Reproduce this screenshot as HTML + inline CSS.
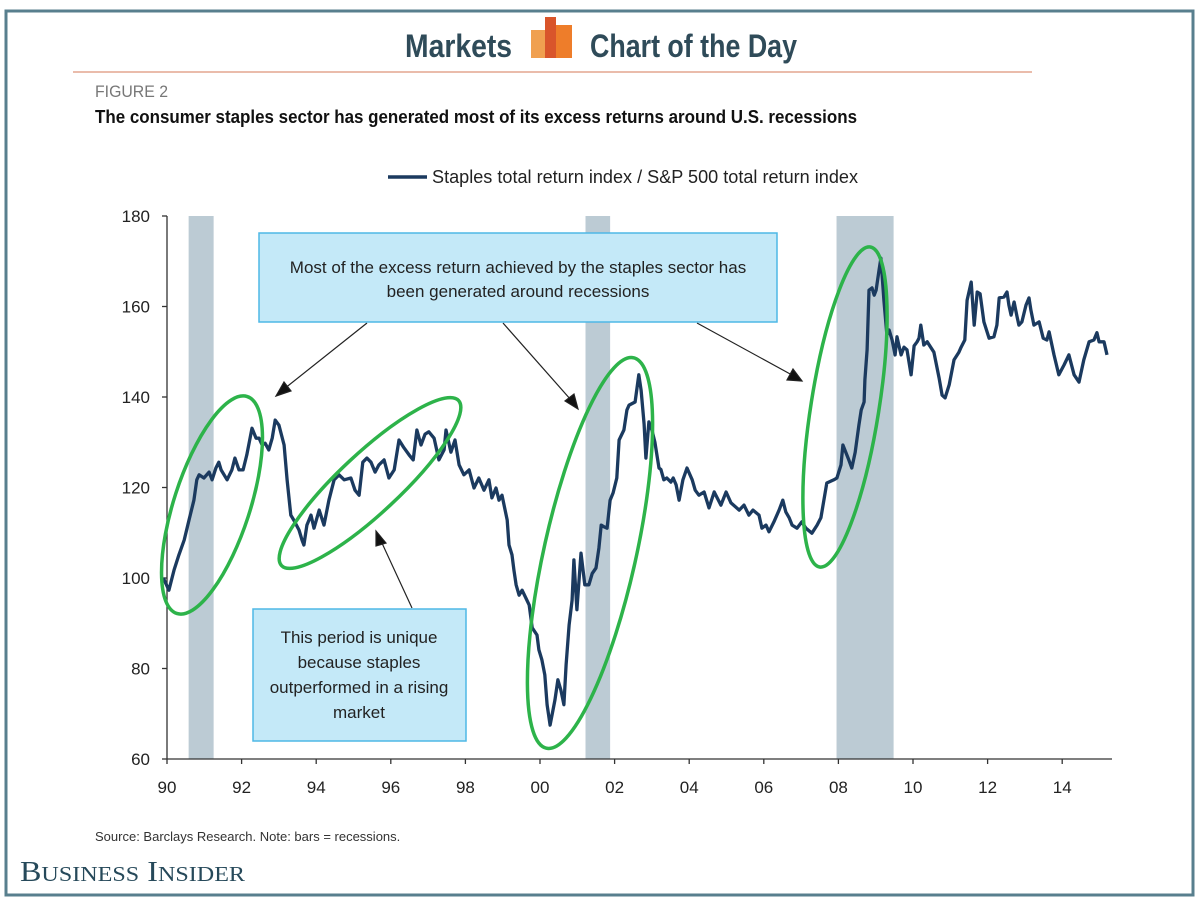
<!DOCTYPE html>
<html><head><meta charset="utf-8">
<style>
html,body{margin:0;padding:0;background:#fff;}
body{width:1200px;height:900px;position:relative;overflow:hidden;font-family:"Liberation Sans",sans-serif;}
</style></head>
<body>
<svg id="chart" width="1200" height="900" viewBox="0 0 1200 900" xmlns="http://www.w3.org/2000/svg" font-family="Liberation Sans, sans-serif">
  <rect x="6" y="11" width="1187" height="884" fill="#fff" stroke="#587f8e" stroke-width="3"/>
  <g>
    <text x="405" y="57" textLength="107" lengthAdjust="spacingAndGlyphs" font-weight="bold" font-size="32" fill="#2f4b59">Markets</text>
    <rect x="531" y="30" width="14" height="28" fill="#f0a050"/>
    <rect x="545" y="17" width="11" height="41" fill="#d9552b"/>
    <rect x="556" y="25" width="16" height="33" fill="#ee7d2a"/>
    <text x="590" y="57" textLength="207" lengthAdjust="spacingAndGlyphs" font-weight="bold" font-size="32" fill="#2f4b59">Chart of the Day</text>
    <line x1="73" y1="72" x2="1032" y2="72" stroke="#e4a58f" stroke-width="1.5"/>
  </g>
  <text x="95" y="97" textLength="73" lengthAdjust="spacingAndGlyphs" font-size="17" fill="#777">FIGURE 2</text>
  <text x="95" y="123" textLength="762" lengthAdjust="spacingAndGlyphs" font-size="18" font-weight="bold" fill="#111">The consumer staples sector has generated most of its excess returns around U.S. recessions</text>
  <g>
    <line x1="388" y1="177" x2="427" y2="177" stroke="#1b3a5f" stroke-width="3.5"/>
    <text x="432" y="183" textLength="426" lengthAdjust="spacingAndGlyphs" font-size="18" fill="#222">Staples total return index / S&amp;P 500 total return index</text>
  </g>
  <g id="bands"></g>
  <g id="axes"></g>
  <g id="series"></g>
  <g fill="none" stroke="#2db34a" stroke-width="3.5">
    <ellipse cx="212" cy="505" rx="38" ry="114" transform="rotate(18 212 505)"/>
    <ellipse cx="370" cy="483" rx="121" ry="30" transform="rotate(-43 370 483)"/>
    <ellipse cx="590" cy="553" rx="46" ry="200" transform="rotate(12.6 590 553)"/>
    <ellipse cx="845" cy="407" rx="34" ry="162" transform="rotate(9 845 407)"/>
  </g>
  <g stroke="#222" stroke-width="1.2" fill="#111">
    <line x1="367" y1="323" x2="284" y2="389"/><polygon points="276,396 284,382 291,391"/>
    <line x1="503" y1="323" x2="571" y2="400"/><polygon points="578,409 565,401 574,394"/>
    <line x1="697" y1="323" x2="792" y2="375"/><polygon points="802,381 787,380 793,369"/>
    <line x1="412" y1="608" x2="381" y2="541"/><polygon points="376,531 386,543 376,546"/>
  </g>
  <g>
    <rect x="259" y="233" width="518" height="89" fill="#c4e9f8" stroke="#4fb8e6" stroke-width="1.5"/>
    <text x="518" y="273" text-anchor="middle" font-size="17" fill="#222">Most of the excess return achieved by the staples sector has</text>
    <text x="518" y="297" text-anchor="middle" font-size="17" fill="#222">been generated around recessions</text>
  </g>
  <g>
    <rect x="253" y="609" width="213" height="132" fill="#c4e9f8" stroke="#4fb8e6" stroke-width="1.5"/>
    <text x="359" y="643" text-anchor="middle" font-size="17" fill="#222">This period is unique</text>
    <text x="359" y="668" text-anchor="middle" font-size="17" fill="#222">because staples</text>
    <text x="359" y="693" text-anchor="middle" font-size="17" fill="#222">outperformed in a rising</text>
    <text x="359" y="718" text-anchor="middle" font-size="17" fill="#222">market</text>
  </g>
  <text x="95" y="841" font-size="13" fill="#333">Source: Barclays Research. Note: bars = recessions.</text>
  <text x="20" y="881" textLength="225" lengthAdjust="spacingAndGlyphs" font-family="Liberation Serif, serif" font-size="28" fill="#26495a">B<tspan font-size="21">USINESS</tspan> I<tspan font-size="21">NSIDER</tspan></text>
</svg>
<script>
const years = [1989.9,1990.05,1990.19,1990.32,1990.46,1990.59,1990.72,1990.80,1990.86,1990.99,1991.13,1991.21,1991.31,1991.39,1991.45,1991.61,1991.74,1991.82,1991.93,1992.04,1992.14,1992.28,1992.39,1992.47,1992.55,1992.63,1992.73,1992.82,1992.90,1993.00,1993.14,1993.22,1993.32,1993.40,1993.54,1993.62,1993.67,1993.75,1993.86,1993.94,1994.08,1994.21,1994.34,1994.48,1994.61,1994.75,1994.93,1995.04,1995.15,1995.25,1995.36,1995.47,1995.58,1995.68,1995.82,1995.95,1996.09,1996.22,1996.35,1996.49,1996.60,1996.70,1996.81,1996.92,1997.02,1997.16,1997.29,1997.43,1997.48,1997.61,1997.72,1997.83,1997.96,1998.10,1998.23,1998.36,1998.50,1998.63,1998.71,1998.82,1998.90,1998.98,1999.12,1999.17,1999.25,1999.30,1999.36,1999.44,1999.52,1999.62,1999.71,1999.79,1999.92,1999.97,2000.05,2000.13,2000.19,2000.27,2000.40,2000.48,2000.56,2000.64,2000.70,2000.78,2000.86,2000.91,2000.99,2001.10,2001.20,2001.31,2001.40,2001.50,2001.58,2001.64,2001.72,2001.80,2001.88,2001.96,2002.06,2002.12,2002.25,2002.33,2002.39,2002.55,2002.65,2002.71,2002.79,2002.84,2002.92,2003.00,2003.08,2003.19,2003.24,2003.32,2003.40,2003.51,2003.57,2003.65,2003.73,2003.83,2003.94,2004.08,2004.16,2004.26,2004.40,2004.53,2004.67,2004.75,2004.85,2004.99,2005.12,2005.34,2005.47,2005.60,2005.71,2005.87,2005.95,2006.06,2006.14,2006.27,2006.41,2006.51,2006.59,2006.68,2006.76,2006.89,2007.02,2007.13,2007.29,2007.43,2007.53,2007.69,2007.88,2007.96,2008.07,2008.12,2008.28,2008.36,2008.45,2008.55,2008.61,2008.69,2008.71,2008.77,2008.82,2008.90,2008.96,2009.01,2009.09,2009.14,2009.22,2009.30,2009.36,2009.44,2009.52,2009.57,2009.62,2009.68,2009.76,2009.84,2009.95,2010.03,2010.11,2010.16,2010.21,2010.29,2010.38,2010.56,2010.70,2010.78,2010.86,2010.97,2011.10,2011.23,2011.29,2011.39,2011.45,2011.56,2011.64,2011.72,2011.80,2011.90,2012.04,2012.17,2012.25,2012.31,2012.44,2012.52,2012.57,2012.63,2012.71,2012.79,2012.84,2012.92,2013.03,2013.11,2013.16,2013.24,2013.38,2013.49,2013.59,2013.65,2013.78,2013.91,2014.05,2014.18,2014.32,2014.45,2014.58,2014.72,2014.85,2014.93,2014.99,2015.12,2015.20];
const ratio = [100.0,97.3,101.8,105.1,108.4,112.8,117.2,121.7,122.8,122.1,123.4,121.7,124.3,125.6,123.9,121.7,123.9,126.5,123.9,123.9,127.2,133.1,130.9,130.9,129.4,129.8,128.3,130.9,134.9,133.8,129.4,121.7,113.9,112.8,110.6,108.4,107.3,111.7,113.9,111.0,115.0,111.7,117.2,121.7,122.8,121.7,122.1,119.4,118.3,125.6,126.5,125.6,123.4,125.0,126.1,122.1,123.9,130.5,128.8,127.2,126.1,132.7,129.4,131.8,132.3,130.9,126.1,128.3,132.7,127.8,130.5,125.0,122.8,123.9,119.9,122.1,119.4,121.7,117.7,119.9,117.2,118.3,112.8,107.3,105.1,101.8,98.5,96.2,97.3,95.6,94.0,89.0,87.4,84.1,81.9,78.6,72.0,67.5,73.0,77.5,75.2,72.0,80.8,89.6,95.1,104.0,93.0,105.5,98.5,98.5,101.0,102.2,106.6,111.7,111.3,111.0,117.2,118.8,122.1,130.5,132.7,137.1,138.2,138.9,144.9,141.5,134.0,126.5,134.5,132.7,130.0,124.3,124.0,121.7,122.1,121.2,122.1,120.6,117.2,121.7,124.3,121.7,119.4,118.3,119.0,115.5,119.0,117.7,116.1,119.0,116.6,115.0,116.1,113.9,115.0,113.9,111.0,111.7,110.2,112.4,115.0,117.2,114.6,113.3,111.7,111.0,112.4,111.0,109.9,111.7,113.3,121.0,121.7,122.1,125.0,129.4,126.1,124.3,127.8,133.8,137.1,138.9,143.8,150.4,163.6,164.1,162.5,163.6,168.1,170.7,161.4,153.7,154.8,152.6,149.3,153.3,151.5,149.3,151.0,150.4,144.9,151.3,152.2,153.0,155.9,151.5,152.2,149.9,144.2,140.4,139.8,142.7,148.2,149.9,151.0,152.6,161.4,165.4,155.9,163.2,162.8,156.6,153.0,153.3,155.9,161.9,162.1,163.2,160.3,158.1,161.0,157.7,155.9,156.6,160.3,161.9,159.2,155.9,156.6,153.0,152.6,154.4,149.3,144.9,147.1,149.3,144.9,143.3,148.2,152.2,152.6,154.2,152.2,152.2,149.3];
const recessionStart = [1990.58, 2001.22, 2007.95];
const recessionEnd = [1991.25, 2001.88, 2009.48];
const xTickYears = [1990,1992,1994,1996,1998,2000,2002,2004,2006,2008,2010,2012,2014];
const xTickLabels = ["90","92","94","96","98","00","02","04","06","08","10","12","14"];
const yTicks = [60,80,100,120,140,160,180];

const NS = "http://www.w3.org/2000/svg";
const X0 = 167, PX_PER_YEAR = 37.3;
const Y0 = 759, PX_PER_UNIT = 543/120;
function xScale(yr){ return X0 + (yr-1990)*PX_PER_YEAR; }
function yScale(v){ return Y0 - (v-60)*PX_PER_UNIT; }
function mk(tag, attrs, parent){
  const e = document.createElementNS(NS, tag);
  for (const k in attrs) e.setAttribute(k, attrs[k]);
  parent.appendChild(e); return e;
}
const bands = document.getElementById('bands');
recessionStart.forEach((s,i)=>{
  const r = mk('rect', {x:xScale(s), y:yScale(180), width:xScale(recessionEnd[i])-xScale(s), height:yScale(60)-yScale(180), fill:'#bccbd4'}, bands);
  
  
});
const axes = document.getElementById('axes');
const ya = mk('line', {x1:X0, y1:yScale(180), x2:X0, y2:Y0, stroke:'#333', 'stroke-width':1.3}, axes);


const xa = mk('line', {x1:X0, y1:Y0, x2:1112, y2:Y0, stroke:'#333', 'stroke-width':1.3}, axes);


yTicks.forEach(v=>{
  mk('line', {x1:X0-5, y1:yScale(v), x2:X0, y2:yScale(v), stroke:'#333', 'stroke-width':1.3}, axes);
  const t = mk('text', {x:150, y:yScale(v)+6, 'text-anchor':'end', 'font-size':17, fill:'#222'}, axes);
  t.textContent = v;
  
  
});
xTickYears.forEach((yr,i)=>{
  mk('line', {x1:xScale(yr), y1:Y0, x2:xScale(yr), y2:Y0+5, stroke:'#333', 'stroke-width':1.3}, axes);
  const t = mk('text', {x:xScale(yr), y:Y0+34, 'text-anchor':'middle', 'font-size':17, fill:'#222'}, axes);
  t.textContent = xTickLabels[i];
  
  
});
const series = document.getElementById('series');
const d = years.map((yr,i)=>(i?'L':'M')+xScale(yr).toFixed(1)+' '+yScale(ratio[i]).toFixed(1)).join(' ');
const p = mk('path', {d:d, fill:'none', stroke:'#1b3a5f', 'stroke-width':3.3, 'stroke-linejoin':'round'}, series);


</script>
</body></html>
